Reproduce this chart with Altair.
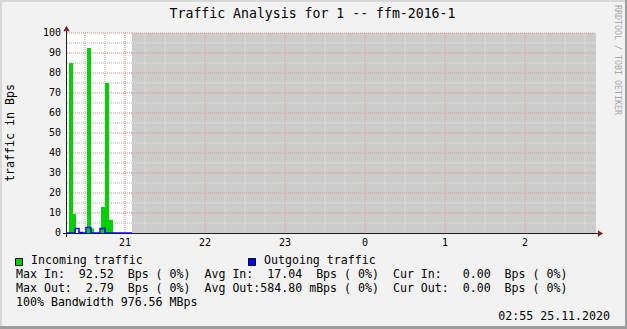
import altair as alt
import pandas as pd

FONT = "DejaVu Sans Mono"

# ---- time axis: minutes after 20:00 (24.11.2020) ----
x_start = 16.5
x_end = 413.25
unknown_start = 65.25          # data unknown from here on (grey canvas)

hour_ticks = [60, 120, 180, 240, 300, 360]
hour_labels = ["21", "22", "23", "0", "1", "2"]
quarter_ticks = [30, 45, 75, 90, 105, 135, 150, 165, 195, 210, 225,
                 255, 270, 285, 315, 330, 345, 375, 390, 405]
y_labels = [0, 10, 20, 30, 40, 50, 60, 70, 80, 90, 100]
y_major = [10, 20, 30, 40, 50, 60, 70, 80, 90, 100]
y_minor = [5, 15, 25, 35, 45, 55, 65, 75, 85, 95]

# ---- incoming traffic (area steps) ----
in_start = [18, 21, 31.5, 34.5, 42, 45, 48]
in_end = [21, 23.25, 34.5, 36.75, 45, 48, 51]
in_value = [85, 9.5, 92.5, 2.3, 13, 75, 6.5]

# ---- outgoing traffic (step line) ----
out_time = [16.5, 22.5, 25.5, 27.75, 30.75, 34.5, 41.25, 45, 65.25]
out_value = [0, 2.3, 0.3, 0, 2.8, 0, 2.3, 0, 0]

series_names = ["Incoming traffic", "Outgoing traffic"]
series_colors = ["#00CF00", "#0000FF"]

title_text = "Traffic Analysis for 1 -- ffm-2016-1"
y_title = "traffic in Bps"
watermark = "RRDTOOL / TOBI OETIKER"
stats_lines = [
    "Max In:  92.52  Bps ( 0%)  Avg In:  17.04  Bps ( 0%)  Cur In:   0.00  Bps ( 0%)",
    "Max Out:  2.79  Bps ( 0%)  Avg Out:584.80 mBps ( 0%)  Cur Out:  0.00  Bps ( 0%)",
    "100% Bandwidth 976.56 MBps",
]
timestamp = "02:55 25.11.2020"

# ---- layout ----
W, H = 529, 200
PAD_L, PAD_T = 67, 33
TOTAL_W, TOTAL_H = 627, 329

MINOR_WHITE, MINOR_GREY = "#a8a8a8", "#e6e6e6"
MAJOR_WHITE, MAJOR_GREY = "#e07878", "#e09a9a"

xscale = alt.Scale(domain=[x_start, x_end], nice=False, zero=False)
yscale = alt.Scale(domain=[0, 100], nice=False, zero=False)

one = pd.DataFrame({"a": [0]})


def nb(s):
    return s.replace(" ", "\u00a0")


def text_layer(text, x, y, size, align="left", color="#000000", angle=0):
    return alt.Chart(pd.DataFrame({"t": [nb(text)]})).mark_text(
        font=FONT, fontSize=size, align=align, baseline="middle", color=color, angle=angle
    ).encode(x=alt.value(x), y=alt.value(y), text="t:N")


# unknown (grey) canvas
unknown = alt.Chart(pd.DataFrame({"s": [unknown_start], "e": [x_end]})).mark_rect(
    color="#cccccc").encode(
    x=alt.X("s:Q", scale=xscale, axis=None), x2="e:Q",
    y=alt.value(0), y2=alt.value(H))

# tick labels through the scales
xlab = alt.Chart(pd.DataFrame({"v": hour_ticks, "l": hour_labels})).mark_text(
    font=FONT, fontSize=10, baseline="middle", align="center", color="#000000").encode(
    x=alt.X("v:Q", scale=xscale, axis=None), y=alt.value(H + 9.5), text="l:N")
ylab = alt.Chart(pd.DataFrame({"v": y_labels})).mark_text(
    font=FONT, fontSize=10, baseline="middle", align="right", color="#000000").encode(
    y=alt.Y("v:Q", scale=yscale, axis=None), x=alt.value(-6), text="v:Q")

# grid
vgrid_rows = [{"v": v, "kind": "minor", "zone": "w" if v < unknown_start else "g"} for v in quarter_ticks]
vgrid_rows += [{"v": v, "kind": "major", "zone": "w" if v < unknown_start else "g"} for v in hour_ticks]
vgrid = pd.DataFrame(vgrid_rows)
vgrid["c"] = vgrid["kind"] + vgrid["zone"]
hgrid_rows = []
for v in y_minor:
    hgrid_rows.append({"v": v, "x0": x_start, "x1": unknown_start, "c": "minorw"})
    hgrid_rows.append({"v": v, "x0": unknown_start, "x1": x_end, "c": "minorg"})
for v in y_major:
    hgrid_rows.append({"v": v, "x0": x_start, "x1": unknown_start, "c": "majorw"})
    hgrid_rows.append({"v": v, "x0": unknown_start, "x1": x_end, "c": "majorg"})
hgrid = pd.DataFrame(hgrid_rows)
cscale = alt.Scale(domain=["minorw", "minorg", "majorw", "majorg"],
                   range=[MINOR_WHITE, MINOR_GREY, MAJOR_WHITE, MAJOR_GREY])

vgrid_layer = alt.Chart(vgrid).mark_rule(strokeDash=[1, 1], strokeWidth=1).encode(
    x=alt.X("v:Q", scale=xscale, axis=None),
    color=alt.Color("c:N", scale=cscale, legend=None))
hgrid_layer = alt.Chart(hgrid).mark_rule(strokeDash=[1, 1], strokeWidth=1).encode(
    y=alt.Y("v:Q", scale=yscale, axis=None),
    x=alt.X("x0:Q", scale=xscale, axis=None), x2="x1:Q",
    color=alt.Color("c:N", scale=cscale, legend=None))

# incoming area
inc = pd.DataFrame({"s": in_start, "e": in_end, "v": in_value, "z": [0] * len(in_value)})
inc_layer = alt.Chart(inc).mark_rect(color=series_colors[0]).encode(
    x=alt.X("s:Q", scale=xscale, axis=None), x2="e:Q",
    y=alt.Y("v:Q", scale=yscale, axis=None), y2="z:Q")

# axis lines and arrows
ax_x = alt.Chart(one).mark_rule(color="#1f1f1f", strokeWidth=1).encode(
    x=alt.value(-4), x2=alt.value(W + 4), y=alt.value(H + 0.5))
ax_y = alt.Chart(one).mark_rule(color="#1f1f1f", strokeWidth=1).encode(
    x=alt.value(-0.5), y=alt.value(-4), y2=alt.value(H + 4))
arrow_up = alt.Chart(one).mark_point(
    shape="M-1,0.833L1,0.833L0,-0.833Z", filled=True, size=40, opacity=1,
    color="#801f1f").encode(x=alt.value(-0.5), y=alt.value(-4.5))
arrow_right = alt.Chart(one).mark_point(
    shape="M-0.833,-1L-0.833,1L0.833,0Z", filled=True, size=40, opacity=1,
    color="#801f1f").encode(x=alt.value(W + 4.5), y=alt.value(H + 0.5))

# outgoing line
out = pd.DataFrame({"t": out_time, "v": out_value})
out_layer = alt.Chart(out).mark_line(interpolate="step-after", color=series_colors[1],
                                     strokeWidth=1.5).encode(
    x=alt.X("t:Q", scale=xscale, axis=None),
    y=alt.Y("v:Q", scale=yscale, axis=None))

# frame shading
frame = [
    alt.Chart(one).mark_rect(color="#d8d8d8").encode(
        x=alt.value(-PAD_L), x2=alt.value(TOTAL_W - PAD_L), y=alt.value(-PAD_T), y2=alt.value(-PAD_T + 2)),
    alt.Chart(one).mark_rect(color="#d8d8d8").encode(
        x=alt.value(-PAD_L), x2=alt.value(-PAD_L + 2), y=alt.value(-PAD_T), y2=alt.value(TOTAL_H - PAD_T)),
    alt.Chart(one).mark_rect(color="#9e9e9e").encode(
        x=alt.value(-PAD_L), x2=alt.value(TOTAL_W - PAD_L), y=alt.value(TOTAL_H - PAD_T - 3), y2=alt.value(TOTAL_H - PAD_T)),
    alt.Chart(one).mark_rect(color="#9e9e9e").encode(
        x=alt.value(TOTAL_W - PAD_L - 2), x2=alt.value(TOTAL_W - PAD_L), y=alt.value(-PAD_T), y2=alt.value(TOTAL_H - PAD_T)),
]

# legend boxes
legend_boxes = []
for i, (name, col) in enumerate(zip(series_names, series_colors)):
    bx = [15, 248][i] - PAD_L
    legend_boxes.append(alt.Chart(one).mark_rect(color=col, stroke="#000000", strokeWidth=1).encode(
        x=alt.value(bx + 0.5), x2=alt.value(bx + 7.5), y=alt.value(258.5 - PAD_T), y2=alt.value(265.5 - PAD_T)))
    legend_boxes.append(text_layer(name, bx + 16, 261 - PAD_T, 11.6))

texts = [
    text_layer(title_text, 312.5 - PAD_L, 14 - PAD_T, 13.2, align="center"),
    text_layer(y_title, 11 - PAD_L, 133 - PAD_T, 11.6, align="center", angle=270),
    text_layer(watermark, 617 - PAD_L, 60 - PAD_T, 8.3, align="center", color="#a8a8a8", angle=90),
    text_layer(stats_lines[0], 16 - PAD_L, 274.5 - PAD_T, 11.6),
    text_layer(stats_lines[1], 16 - PAD_L, 288.5 - PAD_T, 11.6),
    text_layer(stats_lines[2], 16 - PAD_L, 302.5 - PAD_T, 11.6),
    text_layer(timestamp, 610 - PAD_L, 316.5 - PAD_T, 11.6, align="right"),
]

chart = alt.layer(
    *frame, unknown, vgrid_layer, hgrid_layer, inc_layer, ax_x, ax_y,
    out_layer, arrow_up, arrow_right, xlab, ylab, *legend_boxes, *texts
).properties(
    width=W, height=H, background="#f2f2f2",
    padding={"left": PAD_L, "top": PAD_T, "right": TOTAL_W - PAD_L - W, "bottom": TOTAL_H - PAD_T - H},
    autosize=alt.AutoSizeParams(type="none"),
).configure_view(stroke=None, fill="#ffffff")

chart.save("out.html", embed_options={"renderer": "svg", "actions": False})
